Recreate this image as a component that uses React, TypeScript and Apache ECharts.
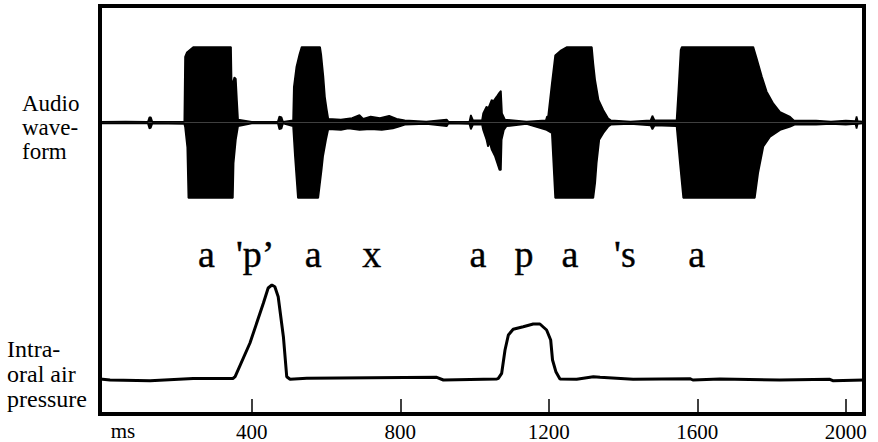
import React, { useEffect, useRef } from "react";
import * as echarts from "echarts";

// Time axis (ms)
const X_MIN = -9;
const X_MAX = 2049;
const tickValues = [400, 800, 1200, 1600, 2000];

// Audio waveform envelope (amplitude, normalised to ±1), upper edge
const waveUpperMs = [-9, 60, 120, 124, 128, 132, 218, 220, 225, 242, 344, 346, 350, 353, 357, 360, 363, 400, 470, 474, 480, 484,
  511, 513, 520, 528, 534, 584, 587, 593, 597, 602, 606, 640, 670, 690, 700, 720, 745, 770, 790, 812, 870, 925, 930, 986, 990, 996,
  1020, 1023, 1032, 1037, 1046, 1050, 1059, 1066, 1071, 1074, 1082, 1140, 1192, 1195, 1198, 1208, 1217, 1231, 1249, 1316, 1320,
  1325, 1334, 1347, 1360, 1367, 1420, 1474, 1479, 1485, 1544, 1549, 1555, 1558, 1751, 1760, 1774, 1787, 1805, 1823, 1850, 1860,
  1920, 1960, 2000, 2026, 2029, 2032, 2045];
const waveUpper = [0.01, 0.012, 0.01, 0.07, 0.07, 0.01, 0.012, 0.87, 0.93, 1.0, 1.0, 0.42, 0.55, 0.6, 0.58, 0.3, 0.04, 0.01, 0.012, 0.08, 0.07, 0.01,
  0.03, 0.47, 0.74, 0.9, 1.0, 1.0, 0.9, 0.6, 0.34, 0.17, 0.05, 0.04, 0.06, 0.1, 0.05, 0.08, 0.06, 0.09, 0.05, 0.03, 0.012, 0.04, 0.01, 0.012, 0.1, 0.03,
  0.03, 0.12, 0.21, 0.19, 0.3, 0.28, 0.34, 0.39, 0.42, 0.12, 0.04, 0.012, 0.03, 0.08, 0.08, 0.52, 0.89, 0.95, 1.0, 1.0, 0.78,
  0.56, 0.3, 0.165, 0.055, 0.03, 0.012, 0.03, 0.09, 0.03, 0.03, 0.43, 0.96, 1.0, 1.0, 0.85, 0.61, 0.41, 0.25, 0.14, 0.075, 0.03,
  0.025, 0.012, 0.025, 0.02, 0.08, 0.02, 0.012];

// Audio waveform envelope, lower edge
const waveLowerMs = [-9, 120, 124, 128, 132, 218, 220, 226, 229, 349, 351, 357, 363, 400, 470, 474, 480, 484,
  511, 516, 524, 579, 588, 592, 600, 606, 640, 660, 690, 720, 750, 780, 800, 812, 870, 925, 930, 986, 990, 996,
  1020, 1023, 1032, 1036, 1040, 1046, 1055, 1061, 1067, 1071, 1073, 1079, 1086, 1140, 1194, 1208, 1217, 1320, 1325, 1329,
  1336, 1347, 1360, 1367, 1420, 1474, 1479, 1485, 1544, 1553, 1562, 1755, 1764, 1778, 1796, 1823, 1850, 1862,
  1920, 1960, 2000, 2026, 2029, 2032, 2045];
const waveLower = [-0.012, -0.012, -0.08, -0.07, -0.012, -0.02, -0.06, -0.33, -1.0, -1.0, -0.54, -0.23, -0.05, -0.012, -0.012, -0.09, -0.08, -0.012,
  -0.05, -0.45, -1.0, -1.0, -0.63, -0.45, -0.23, -0.09, -0.1, -0.08, -0.1, -0.09, -0.1, -0.08, -0.05, -0.03, -0.02, -0.05, -0.012, -0.02, -0.09, -0.03,
  -0.03, -0.1, -0.23, -0.32, -0.26, -0.36, -0.45, -0.54, -0.63, -0.63, -0.23, -0.1, -0.05, -0.02, -0.1, -0.14, -1.0, -1.0, -0.8, -0.54,
  -0.23, -0.14, -0.055, -0.03, -0.02, -0.04, -0.09, -0.04, -0.05, -0.54, -1.0, -1.0, -0.67, -0.32, -0.19, -0.1, -0.055, -0.03,
  -0.03, -0.02, -0.03, -0.02, -0.08, -0.02, -0.012];

// Intraoral air pressure (arbitrary units)
const pressureMs = [-9, 18, 126, 242, 349, 355, 395, 431, 444, 454, 462, 471, 485, 494, 503, 548, 898, 916, 1060, 1064, 1073,
  1082, 1091, 1104, 1131, 1158, 1176, 1194, 1205, 1210, 1219, 1230, 1275, 1320, 1338, 1427, 1580, 1588, 1661, 1822, 1957, 1965, 2049];
const pressure = [1, 0, -0.7, 1.5, 1.5, 3.3, 37, 76.7, 92, 95, 93.3, 83.3, 43.3, 3.3, 0.7, 1.7, 2.7, 0, 1, 1.7, 6.7,
  30, 45, 50.7, 53.3, 56, 56, 50, 40, 20, 8.3, 1, 0.7, 3.3, 2.7, 0.7, 1.3, 0, 1, 0, 0.7, -0.7, 0];

// Phonetic segment labels
const phones = ["a", "'p\u2019", "a", "x", "a", "p", "a", "'s", "a"];
const phoneMs = [278, 409, 565, 723, 1009, 1133, 1257, 1405, 1598];

const SERIF = "'Liberation Serif', 'Times New Roman', serif";

const zip = (xs: number[], ys: number[]) => xs.map((x, i) => [x, ys[i]]);

export default function App() {
  const ref = useRef<HTMLDivElement>(null);
  useEffect(() => {
    if (!ref.current) return;
    const chart = echarts.init(ref.current, undefined, { renderer: "svg" });
    const hiddenX = (gi: number) => ({
      type: "value", gridIndex: gi, min: X_MIN, max: X_MAX, show: false,
    });
    chart.setOption({
      animation: false,
      backgroundColor: "#fff",
      grid: [
        { left: 100, right: 14, top: 6, bottom: 28, show: true, borderColor: "#000", borderWidth: 4, backgroundColor: "transparent" },
        { left: 100, right: 14, top: 47, height: 151 },
        { left: 100, right: 14, top: 280, height: 110 },
      ],
      xAxis: [
        {
          type: "value", gridIndex: 0, min: X_MIN, max: X_MAX,
          axisLine: { show: false },
          splitLine: { show: false },
          axisTick: { show: true, inside: true, length: 15, customValues: tickValues, lineStyle: { color: "#000", width: 1.5 } },
          axisLabel: {
            show: true, customValues: tickValues, margin: 7, color: "#000", fontSize: 21, fontFamily: SERIF,
            formatter: (v: number) => String(v),
          },
        },
        hiddenX(1),
        hiddenX(2),
      ],
      yAxis: [
        { type: "value", gridIndex: 0, min: 0, max: 1, show: false },
        { type: "value", gridIndex: 1, min: -1, max: 1, show: false },
        { type: "value", gridIndex: 2, min: -10, max: 100, show: false },
      ],
      series: [
        {
          type: "line", name: "waveform upper", xAxisIndex: 1, yAxisIndex: 1,
          data: zip(waveUpperMs, waveUpper), symbol: "none", clip: false, silent: true,
          lineStyle: { color: "#000", width: 1.6 },
          areaStyle: { color: "#000", opacity: 1, origin: 0 },
        },
        {
          type: "line", name: "waveform lower", xAxisIndex: 1, yAxisIndex: 1,
          data: zip(waveLowerMs, waveLower), symbol: "none", clip: false, silent: true,
          lineStyle: { color: "#000", width: 1.6 },
          areaStyle: { color: "#000", opacity: 1, origin: 0 },
        },
        {
          type: "line", name: "pressure", xAxisIndex: 2, yAxisIndex: 2,
          data: zip(pressureMs, pressure), symbol: "none", clip: false, silent: true,
          lineStyle: { color: "#000", width: 3 },
        },
        {
          type: "scatter", name: "segments", xAxisIndex: 0, yAxisIndex: 0,
          data: phoneMs.map((m) => [m, 0.392]), symbolSize: 1, silent: true,
          itemStyle: { color: "rgba(0,0,0,0)", opacity: 1 },
          label: {
            show: true, position: "inside", color: "#000", opacity: 1, fontSize: 38, fontFamily: SERIF,
            textBorderColor: "#000", textBorderWidth: 0.4,
            formatter: (p: any) => phones[p.dataIndex],
          },
        },
      ],
      graphic: [
        {
          type: "text", left: 22, top: 91,
          style: { text: "Audio\nwave-\nform", font: `23px ${SERIF}`, fill: "#000", lineHeight: 24 },
        },
        {
          type: "text", left: 7, top: 336,
          style: { text: "Intra-\noral air\npressure", font: `24px ${SERIF}`, fill: "#000", lineHeight: 25 },
        },
        {
          type: "text", x: 123, y: 431,
          style: { text: "ms", font: `21px ${SERIF}`, fill: "#000", textAlign: "center", textVerticalAlign: "middle" },
        },
      ],
    });
    return () => chart.dispose();
  }, []);
  return <div ref={ref} style={{ position: "fixed", left: 0, top: 0, width: 878, height: 442 }} />;
}
